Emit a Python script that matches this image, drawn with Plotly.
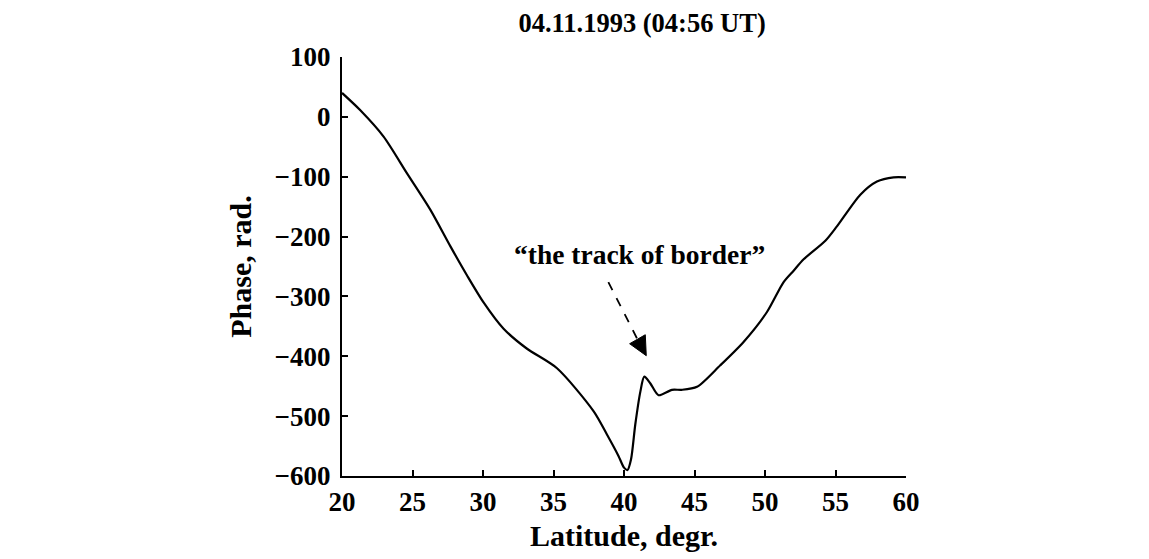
import plotly.graph_objects as go

# Curve
latitude = [20.0, 21.3, 22.95, 24.6, 26.26, 27.68, 28.87, 30.04, 31.46, 33.1, 35.25,
            37.85, 38.8, 39.6, 40.0, 40.25, 40.5, 40.8, 41.16, 41.44, 41.86, 42.45,
            43.4, 44.1, 45.18, 46.83, 48.48, 50.14, 51.32, 52.03, 52.74, 54.28, 55.1,
            56.76, 57.94, 59.12, 60.0]
phase = [40, 11, -33, -94, -155, -216, -265, -310, -354, -387, -420,
         -492, -531, -566, -586, -590, -572, -514, -459, -434, -445, -465,
         -456, -456, -451, -415, -376, -326, -276, -257, -238, -207, -183,
         -130, -108, -101, -101]

x_ticks = [20, 25, 30, 35, 40, 45, 50, 55, 60]
y_ticks = [100, 0, -100, -200, -300, -400, -500, -600]

title_text = "04.11.1993 (04:56 UT)"
x_title = "Latitude, degr."
y_title = "Phase, rad."
note_text = "\u201cthe track of border\u201d"

# annotation geometry (data coordinates)
arrow_start = (38.89, -276)
arrow_base = (40.94, -371)
head_pts = [(40.40, -379), (41.58, -399), (41.51, -364)]
note_pos = (41.1, -230)

FONT = "Liberation Serif"


def fmt(v):
    s = str(abs(v))
    return "<b>" + ("\u2212" + s if v < 0 else s) + "</b>"


fig = go.Figure()
fig.add_trace(go.Scatter(
    x=latitude, y=phase, mode="lines",
    line=dict(color="black", width=2.2, shape="spline", smoothing=0.75),
    showlegend=False, hoverinfo="skip"))

fig.update_layout(
    width=1141, height=551,
    margin=dict(l=334, r=243, t=49, b=81),
    paper_bgcolor="white", plot_bgcolor="white",
    font=dict(family=FONT, color="black", size=26),
    title=dict(text="<b>" + title_text + "</b>", xref="paper", x=0.532, xanchor="center",
               yref="container", y=0.973, yanchor="middle",
               font=dict(family=FONT, size=26.5, color="black")),
    showlegend=False,
)

fig.update_xaxes(
    range=[20, 60], tickvals=x_ticks, ticktext=[fmt(v) for v in x_ticks],
    showline=True, linecolor="black", linewidth=2.2, mirror=False,
    ticks="inside", ticklen=6, tickwidth=2, tickcolor="black",
    showgrid=False, zeroline=False,
    tickfont=dict(family=FONT, size=27, color="black"),
    title=dict(text="<b>" + x_title + "</b>", standoff=9,
               font=dict(family=FONT, size=30, color="black")),
)
fig.update_yaxes(
    range=[-600, 100], tickvals=y_ticks, ticktext=[fmt(v) for v in y_ticks],
    showline=True, linecolor="black", linewidth=2.2, mirror=False,
    ticks="inside", ticklen=6, tickwidth=2, tickcolor="black",
    showgrid=False, zeroline=False,
    tickfont=dict(family=FONT, size=27, color="black"),
    ticklabelstandoff=4,
    title=dict(text="<b>" + y_title + "</b>", standoff=14,
               font=dict(family=FONT, size=30, color="black")),
)

fig.add_annotation(
    x=note_pos[0], y=note_pos[1], xref="x", yref="y",
    text="<b>" + note_text + "</b>", showarrow=False,
    font=dict(family=FONT, size=27.5, color="black"),
    xanchor="center", yanchor="middle")

fig.add_shape(type="line", xref="x", yref="y",
              x0=arrow_start[0], y0=arrow_start[1], x1=arrow_base[0], y1=arrow_base[1],
              line=dict(color="black", width=1.8, dash="dash"))
path = "M {} {} L {} {} L {} {} Z".format(head_pts[0][0], head_pts[0][1],
                                          head_pts[1][0], head_pts[1][1],
                                          head_pts[2][0], head_pts[2][1])
fig.add_shape(type="path", xref="x", yref="y", path=path,
              fillcolor="black", line=dict(color="black", width=1))

fig.write_html("out.html")
